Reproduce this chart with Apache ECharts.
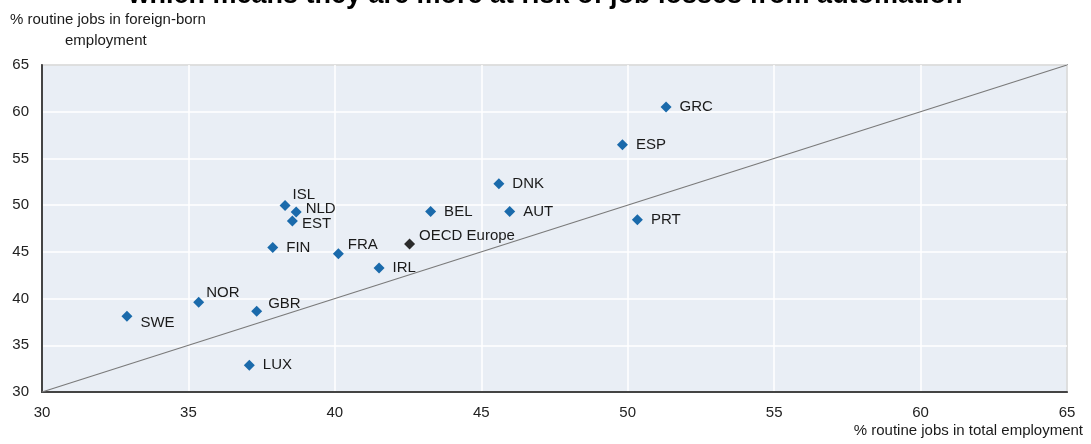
<!DOCTYPE html>
<html>
<head>
<meta charset="utf-8">
<script src="https://cdn.jsdelivr.net/npm/echarts@6/dist/echarts.min.js"></script>
<style>
  html, body { margin: 0; padding: 0; background: #fff; }
  #chart { width: 1091px; height: 444px; }
</style>
</head>
<body>
<div id="chart"></div>
<script>
const countries = ['SWE', 'NOR', 'GBR', 'LUX', 'IRL', 'FRA', 'FIN', 'ISL', 'NLD', 'EST', 'BEL', 'AUT', 'DNK', 'ESP', 'GRC', 'PRT']
const totalShare = [32.9, 35.35, 37.33, 37.08, 41.51, 40.12, 37.88, 38.3, 38.68, 38.55, 43.27, 45.97, 45.6, 49.82, 51.31, 50.33]
const foreignShare = [38.1, 39.6, 38.65, 32.86, 43.26, 44.8, 45.47, 49.97, 49.26, 48.29, 49.32, 49.32, 52.29, 56.47, 60.5, 48.43]
const oecdName = 'OECD Europe'
const oecdPoint = [42.55, 45.83]
const diagonal = [[30, 30], [65, 65]]
const axisTicks = [30, 35, 40, 45, 50, 55, 60, 65]

// label placement tweaks, keyed by country
const labelPos = {
  SWE: { position: 'right', offset: [2, 7] },
  NOR: { position: 'right', offset: [-4, -9] },
  GBR: { position: 'right', offset: [0, -7] },
  FRA: { position: 'right', offset: [-2, -9] },
  ISL: { position: 'right', offset: [-4, -11] },
  NLD: { position: 'right', offset: [-2, -3] },
  EST: { position: 'right', offset: [-2, 3] }
}

const narrow = '"Liberation Sans Narrow", "Liberation Sans", Arial, sans-serif'
const chart = echarts.init(document.getElementById('chart'))

chart.setOption({
  animation: false,
  textStyle: { fontFamily: narrow, color: '#1a1a1a' },
  title: {
    text: 'which means they are more at risk of job losses from automation',
    left: 'center',
    top: -23,
    textStyle: { fontSize: 27, fontWeight: 'bold', color: '#000', fontFamily: 'Liberation Sans, Arial, sans-serif' }
  },
  graphic: [
    {
      type: 'text',
      left: 10,
      top: 12,
      style: {
        text: '% routine jobs in foreign-born',
        font: '15px ' + narrow,
        fill: '#1a1a1a'
      }
    },
    {
      type: 'text',
      left: 65,
      top: 33,
      style: {
        text: 'employment',
        font: '15px ' + narrow,
        fill: '#1a1a1a'
      }
    },
    {
      type: 'text',
      right: 8,
      top: 423,
      style: {
        text: '% routine jobs in total employment',
        font: '15px ' + narrow,
        fill: '#1a1a1a'
      }
    }
  ],
  grid: {
    left: 42,
    right: 24,
    top: 65,
    bottom: 52,
    show: true,
    backgroundColor: '#e9eef5',
    borderColor: '#555',
    borderWidth: 1.5
  },
  xAxis: {
    type: 'value',
    min: 30,
    max: 65,
    interval: 5,
    axisLine: { show: true, lineStyle: { color: '#444', width: 2 } },
    axisTick: { show: false },
    axisLabel: {
      fontSize: 15,
      color: '#222',
      margin: 13,
      formatter: v => (axisTicks.includes(v) ? String(v) : '')
    },
    splitLine: { show: true, lineStyle: { color: '#fff', width: 1.5 } }
  },
  yAxis: {
    type: 'value',
    min: 30,
    max: 65,
    interval: 5,
    axisLine: { show: true, lineStyle: { color: '#444', width: 2 } },
    axisTick: { show: false },
    axisLabel: {
      fontSize: 15,
      color: '#222',
      margin: 13,
      formatter: v => (axisTicks.includes(v) ? String(v) : '')
    },
    splitLine: { show: true, lineStyle: { color: '#fff', width: 1.5 } }
  },
  series: [
    {
      type: 'line',
      data: diagonal,
      symbol: 'none',
      silent: true,
      lineStyle: { color: '#7a7a7a', width: 1.2 },
      z: 1
    },
    {
      type: 'scatter',
      symbol: 'diamond',
      symbolSize: 11,
      itemStyle: { color: '#1a6aab', opacity: 1 },
      data: countries.map((c, i) => {
        const p = labelPos[c] || { position: 'right', offset: [2, 0] }
        return {
          name: c,
          value: [totalShare[i], foreignShare[i]],
          label: { position: p.position, offset: p.offset }
        }
      }),
      label: {
        show: true,
        formatter: '{b}',
        fontSize: 15,
        color: '#1a1a1a',
        distance: 6
      },
      z: 3
    },
    {
      type: 'scatter',
      symbol: 'diamond',
      symbolSize: 11,
      itemStyle: { color: '#2b2b2b', opacity: 1 },
      data: [{ name: oecdName, value: oecdPoint }],
      label: {
        show: true,
        formatter: '{b}',
        position: 'right',
        offset: [-2, -8],
        fontSize: 15,
        color: '#1a1a1a',
        distance: 6
      },
      z: 3
    }
  ]
})

window.addEventListener('resize', () => chart.resize())
</script>
</body>
</html>
